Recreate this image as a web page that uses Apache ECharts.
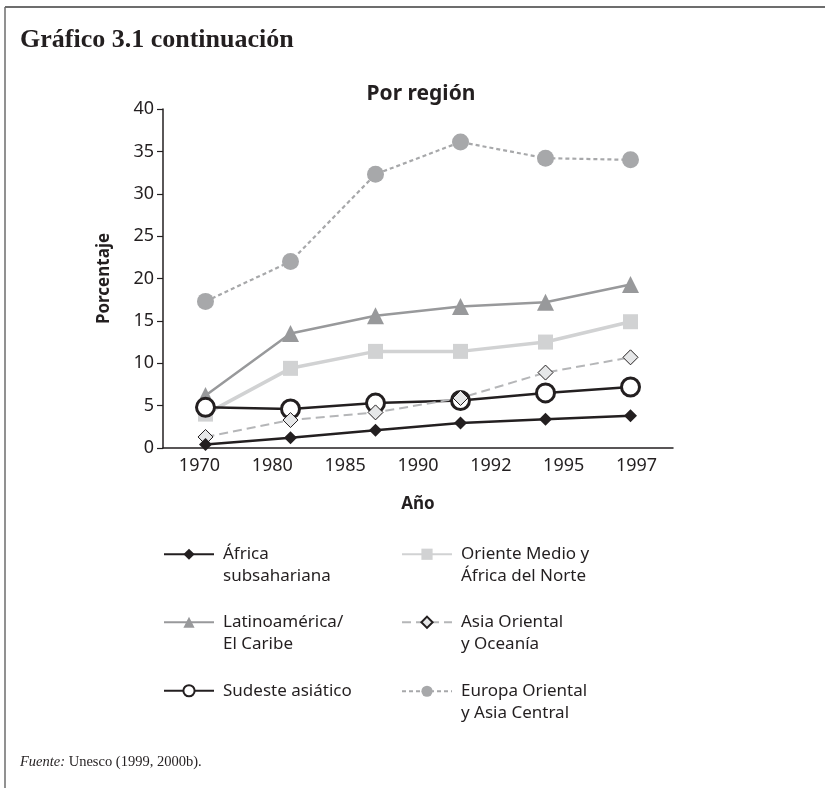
<!DOCTYPE html>
<html>
<head>
<meta charset="utf-8">
<script src="https://cdn.jsdelivr.net/npm/echarts@6/dist/echarts.min.js"></script>
<style>
  html, body { margin: 0; padding: 0; background: #fff; }
  #chart-region { width: 825px; height: 788px; }
</style>
</head>
<body>
<div id="chart-region"></div>
<script>
// etiquetas del eje X (7) y años de los datos (6)
const axisLabels = ['1970', '1980', '1985', '1990', '1992', '1995', '1997'];
const dataYears = ['1970', '1980', '1985', '1991', '1995', '1997'];
const yTicks = [0, 5, 10, 15, 20, 25, 30, 35, 40];

const africa = [0.4, 1.2, 2.1, 2.95, 3.4, 3.8];
const orienteMedio = [4.0, 9.4, 11.4, 11.4, 12.5, 14.9];
const latinoamerica = [6.2, 13.5, 15.6, 16.7, 17.2, 19.3];
const asiaOriental = [1.3, 3.3, 4.2, 5.9, 8.9, 10.7];
const sudeste = [4.8, 4.6, 5.3, 5.6, 6.5, 7.2];
const europa = [17.3, 22.0, 32.3, 36.1, 34.2, 34.0];

const sans = 'Noto Sans';
const ink = '#231f20';

let myChart = echarts.init(document.getElementById('chart-region'));

// una leyenda por elemento; con dos líneas se antepone una línea vacía
// para que el icono quede a la altura de la primera línea
function legendAt(name, left, iconY, twoLines) {
  return {
    data: [name],
    left: left,
    top: twoLines ? iconY - 32 : iconY - 11,
    padding: 0,
    itemWidth: 50,
    itemHeight: 14,
    selectedMode: false,
    formatter: n => (twoLines ? '\n' + n : n),
    textStyle: {
      fontFamily: sans,
      fontSize: 17,
      color: ink,
      lineHeight: 21.5,
      padding: [0, 0, 0, 4]
    }
  };
}

const names = {
  africa: 'África\nsubsahariana',
  oriente: 'Oriente Medio y\nÁfrica del Norte',
  latino: 'Latinoamérica/\nEl Caribe',
  asia: 'Asia Oriental\ny Oceanía',
  sudeste: 'Sudeste asiático',
  europa: 'Europa Oriental\ny Asia Central'
};

const option = {
  animation: false,
  backgroundColor: '#fff',
  title: [
    {
      text: 'Por región',
      left: 416,
      top: 79,
      textAlign: 'center',
      textStyle: { fontFamily: sans, fontSize: 21, fontWeight: 'bold', color: ink }
    }
  ],
  graphic: [
    { type: 'line', shape: { x1: 5, y1: 7, x2: 825, y2: 7 }, style: { stroke: '#6d6d6d', lineWidth: 2 } },
    { type: 'line', shape: { x1: 5, y1: 7, x2: 5, y2: 788 }, style: { stroke: '#6d6d6d', lineWidth: 1.5 } },
    {
      type: 'text', left: 20, top: 27,
      style: { text: 'Gráfico 3.1 continuación', fontFamily: 'Liberation Serif', fontSize: 26, fontWeight: 'bold', fill: ink }
    },
    {
      type: 'text', left: 20, top: 755,
      style: {
        text: '{i|Fuente:} Unesco (1999, 2000b).',
        rich: {
          i: { fontFamily: 'Liberation Serif', fontStyle: 'italic', fontSize: 14.5, fill: ink }
        },
        fontFamily: 'Liberation Serif', fontSize: 14.5, fill: ink
      }
    }
  ],
  legend: [
    legendAt(names.africa, 163, 554, true),
    legendAt(names.latino, 163, 622, true),
    legendAt(names.sudeste, 163, 691, false),
    legendAt(names.oriente, 401, 554, true),
    legendAt(names.asia, 401, 622, true),
    legendAt(names.europa, 401, 691, true)
  ],
  grid: { left: 163, right: 152, top: 109, bottom: 340 },
  xAxis: [
    {
      type: 'category',
      data: axisLabels,
      boundaryGap: true,
      name: 'Año',
      nameLocation: 'middle',
      nameGap: 48,
      nameTextStyle: { fontFamily: sans, fontSize: 17, fontWeight: 'bold', color: ink },
      axisLine: { lineStyle: { color: ink, width: 1.5 } },
      axisTick: { inside: true, length: 7, lineStyle: { color: ink, width: 1.2 } },
      axisLabel: { fontFamily: sans, fontSize: 18, color: ink, margin: 9 },
      splitLine: { show: false }
    },
    {
      type: 'category',
      data: dataYears,
      boundaryGap: true,
      show: false
    }
  ],
  yAxis: {
    type: 'value',
    min: 0,
    max: 40,
    interval: 5,
    name: 'Porcentaje',
    nameLocation: 'middle',
    nameGap: 50,
    nameTextStyle: { fontFamily: sans, fontSize: 17, fontWeight: 'bold', color: ink },
    axisLine: { show: true, lineStyle: { color: ink, width: 1.5 } },
    axisTick: { show: true, length: 6, lineStyle: { color: ink, width: 1.2 } },
    axisLabel: {
      fontFamily: sans, fontSize: 18, color: ink, margin: 9,
      formatter: v => (yTicks.indexOf(v) >= 0 ? String(v) : '')
    },
    splitLine: { show: false }
  },
  series: [
    {
      name: names.europa, type: 'line', xAxisIndex: 1, data: europa,
      symbol: 'circle', symbolSize: 17,
      lineStyle: { color: '#a7a8aa', width: 2.2, type: [4, 3] },
      itemStyle: { color: '#a7a8aa' }
    },
    {
      name: names.latino, type: 'line', xAxisIndex: 1, data: latinoamerica,
      symbol: 'triangle', symbolSize: 17,
      lineStyle: { color: '#98999b', width: 2.5 },
      itemStyle: { color: '#98999b' }
    },
    {
      name: names.oriente, type: 'line', xAxisIndex: 1, data: orienteMedio,
      symbol: 'rect', symbolSize: 15,
      lineStyle: { color: '#d1d2d3', width: 3.5 },
      itemStyle: { color: '#d1d2d3' }
    },
    {
      name: names.sudeste, type: 'line', xAxisIndex: 1, data: sudeste,
      symbol: 'circle', symbolSize: 18,
      lineStyle: { color: ink, width: 2.5 },
      itemStyle: { color: '#fff', borderColor: ink, borderWidth: 3 }
    },
    {
      name: names.asia, type: 'line', xAxisIndex: 1, data: asiaOriental,
      symbol: 'diamond', symbolSize: 15,
      lineStyle: { color: '#b5b6b8', width: 2, type: [9, 5] },
      itemStyle: { color: '#e6e7e8', borderColor: ink, borderWidth: 1 }
    },
    {
      name: names.africa, type: 'line', xAxisIndex: 1, data: africa,
      symbol: 'diamond', symbolSize: 13,
      lineStyle: { color: ink, width: 2.5 },
      itemStyle: { color: ink }
    }
  ]
};

myChart.setOption(option, true);
</script>
</body>
</html>
